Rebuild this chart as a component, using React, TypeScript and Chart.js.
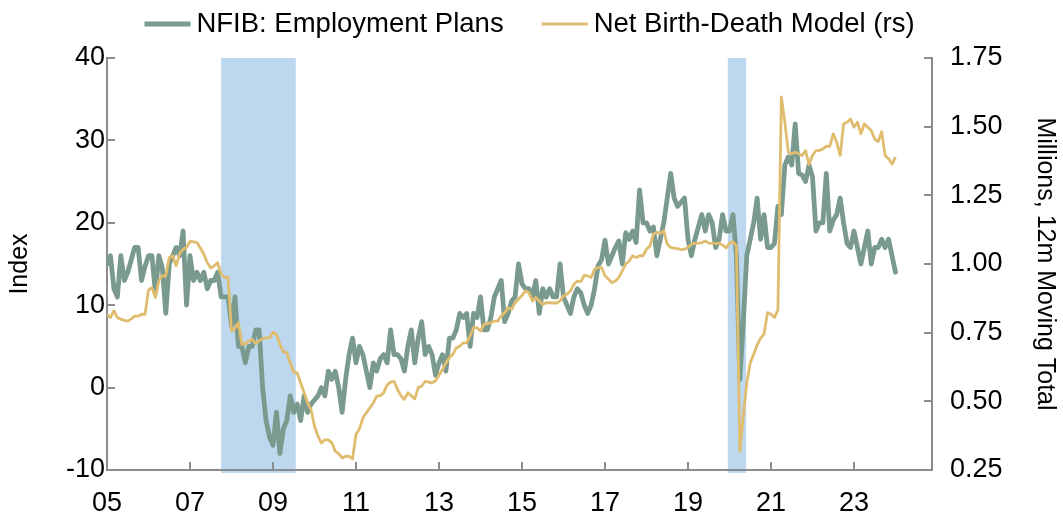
import React, { useEffect, useRef } from 'react';
import { Chart, registerables } from 'chart.js';

Chart.register(...registerables);

// ---- data ----
const FIRST_YEAR = 2005; // first monthly observation: Jan 2005

const seriesNames = ['NFIB: Employment Plans', 'Net Birth-Death Model (rs)'];
const axisTitles = ['Index', 'Millions, 12m Moving Total'];

// NFIB: Employment Plans (index, monthly Jan 2005 - Jan 2024)
const nfibEmploymentPlans: number[] = [
  15, 16, 12, 11, 16, 13, 14, 15.5, 17, 17, 13, 14.7,
  16, 16, 11.5, 16, 14.5, 9, 15, 16, 17, 16, 19, 10,
  16, 13, 14, 13, 14, 12, 13, 13, 14, 11, 11, 11,
  7.5, 11, 5, 5, 3, 5, 5, 7, 7, 0, -4, -6,
  -7, -3, -8, -5, -4, -1, -3, -2, -4, -1, -3, -2,
  -1.5, -1, 0, -1, 2, 1, 2, 0, -3, 1, 4, 6,
  3, 5, 4, 2, 0, 3, 2, 3.5, 4, 3, 7, 4,
  4, 3.5, 2, 5, 7, 3, 6, 8, 4, 5, 4, 1.5,
  3, 4, 2, 6, 6, 7, 9, 8.5, 9, 5, 9, 8.5,
  11, 7, 7, 8.5, 11, 12, 13, 8, 9, 10.5, 11, 15,
  12.6, 12, 12, 11, 13, 9, 12, 11, 12, 11, 11, 15,
  11, 10, 9, 11, 12, 11.5, 10, 9, 10, 12, 14.8, 15.5,
  17.9, 15, 16, 17, 17.8, 15, 18.8, 18, 19, 17.6, 24, 20,
  20, 19, 19.5, 16, 18, 20, 23, 26, 23, 22, 22.5, 23,
  18, 16, 18, 19.5, 21, 19, 21, 20, 17, 18, 21, 19,
  19, 21, 16, 1, 8, 16, 18, 20, 23, 18, 21, 17,
  17, 17.5, 22, 21, 27, 28, 27, 32, 26, 25.8, 25, 27,
  25.6, 19, 20, 20, 26, 19, 20.3, 21, 23, 20, 17.5, 17,
  19, 17, 15, 17, 19, 15, 17, 17, 18, 17, 18, 16,
  14,
];

// Net Birth-Death Model (millions, 12m moving total, right scale)
const netBirthDeathModel: number[] = [
  0.817, 0.805, 0.83, 0.805, 0.799, 0.795, 0.792, 0.8, 0.81, 0.81, 0.817, 0.817,
  0.905, 0.914, 0.878, 0.94, 0.957, 0.957, 1.024, 1.03, 0.993, 1.038, 1.054, 1.06,
  1.082, 1.081, 1.078, 1.058, 1.036, 1.005, 0.985, 0.993, 1.005, 0.963, 0.951, 0.951,
  0.756, 0.765, 0.786, 0.707, 0.71, 0.72, 0.726, 0.71, 0.72, 0.728, 0.732, 0.73,
  0.752, 0.744, 0.707, 0.68, 0.677, 0.64, 0.606, 0.604, 0.567, 0.531, 0.494, 0.47,
  0.409, 0.373, 0.348, 0.36, 0.36, 0.35, 0.318, 0.31, 0.294, 0.3, 0.3, 0.29,
  0.38, 0.4, 0.44, 0.458, 0.476, 0.494, 0.519, 0.521, 0.531, 0.56, 0.57, 0.573,
  0.543, 0.52, 0.507, 0.531, 0.52, 0.509, 0.55, 0.555, 0.573, 0.57, 0.567, 0.575,
  0.595, 0.616, 0.64, 0.659, 0.671, 0.695, 0.7, 0.713, 0.713, 0.738, 0.768, 0.768,
  0.756, 0.78, 0.783, 0.786, 0.792, 0.792, 0.811, 0.823, 0.841, 0.835, 0.859, 0.872,
  0.885, 0.902, 0.896, 0.865, 0.878, 0.865, 0.853, 0.859, 0.859, 0.858, 0.858, 0.865,
  0.884, 0.89, 0.902, 0.926, 0.938, 0.936, 0.959, 0.957, 0.951, 0.981, 0.987, 0.987,
  0.957, 0.945, 0.932, 0.938, 0.951, 0.975, 1.0, 1.011, 1.03, 1.024, 1.03, 1.03,
  1.054, 1.066, 1.109, 1.115, 1.112, 1.121, 1.072, 1.06, 1.058, 1.056, 1.052, 1.054,
  1.06, 1.072, 1.075, 1.076, 1.078, 1.084, 1.076, 1.075, 1.074, 1.076, 1.069, 1.058,
  1.076, 1.081, 1.066, 0.318, 0.446, 0.567, 0.64, 0.671, 0.705, 0.73, 0.745, 0.823,
  0.817, 0.805, 0.832, 1.608, 1.516, 1.407, 1.401, 1.407, 1.401, 1.395, 1.413, 1.362,
  1.395, 1.413, 1.413, 1.419, 1.429, 1.428, 1.474, 1.443, 1.395, 1.51, 1.516, 1.528,
  1.498, 1.516, 1.474, 1.51, 1.498, 1.486, 1.455, 1.446, 1.482, 1.395, 1.383, 1.364,
  1.389,
];

const xTickYears = [2005, 2007, 2009, 2011, 2013, 2015, 2017, 2019, 2021, 2023];
const xRange = [2005, 2024.88];
const leftTicks = [-10, 0, 10, 20, 30, 40];
const rightTicks = [0.25, 0.5, 0.75, 1.0, 1.25, 1.5, 1.75];
// recession shading (decimal years)
const recessionStarts = [2007.75, 2019.96];
const recessionEnds = [2009.55, 2020.4];

// ---- styles ----
const FONT = "'Liberation Sans', Arial, sans-serif";
const LEGEND_SIZE = 27.5;
const TICK_SIZE = 27;
const TITLE_SIZE = 25;
const GREEN = '#7a9a8e';
const GOLD = '#e0bd6e';
const SHADE = '#bdd7ee';
const AXIS = '#8c8c8c';
const TEXT = '#000000';

const toPoints = (arr: number[]) => arr.map((v, i) => ({ x: FIRST_YEAR + i / 12, y: v }));

const shadePlugin = {
  id: 'recessionShade',
  beforeDraw(chart: any) {
    const { ctx, chartArea, scales } = chart;
    const xs = scales.x;
    ctx.save();
    ctx.fillStyle = SHADE;
    recessionStarts.forEach((s, k) => {
      const x0 = xs.getPixelForValue(s);
      const x1 = xs.getPixelForValue(recessionEnds[k]);
      ctx.fillRect(x0, chartArea.top, x1 - x0, chartArea.bottom - chartArea.top + 3);
    });
    ctx.restore();
  },
};

const tickPlugin = {
  id: 'inwardTicks',
  afterDatasetsDraw(chart: any) {
    const { ctx, chartArea, scales } = chart;
    const len = 8;
    ctx.save();
    ctx.strokeStyle = AXIS;
    ctx.lineWidth = 2;
    ctx.beginPath();
    scales.x.ticks.forEach((t: any) => {
      const px = Math.round(scales.x.getPixelForValue(t.value));
      ctx.moveTo(px, chartArea.bottom);
      ctx.lineTo(px, chartArea.bottom - len);
    });
    scales.y.ticks.forEach((t: any) => {
      const py = Math.round(scales.y.getPixelForValue(t.value));
      ctx.moveTo(chartArea.left, py);
      ctx.lineTo(chartArea.left + len, py);
    });
    scales.y1.ticks.forEach((t: any) => {
      const py = Math.round(scales.y1.getPixelForValue(t.value));
      ctx.moveTo(chartArea.right, py);
      ctx.lineTo(chartArea.right - len, py);
    });
    ctx.stroke();
    ctx.restore();
  },
};

const legendPlugin = {
  id: 'topLegend',
  afterDraw(chart: any) {
    const { ctx } = chart;
    const sample = 46;
    const gap = 6;
    const spacing = 38;
    const y = 24;
    ctx.save();
    ctx.font = `${LEGEND_SIZE}px ${FONT}`;
    ctx.textBaseline = 'middle';
    ctx.textAlign = 'left';
    const items = chart.data.datasets.map((ds: any) => ({
      label: ds.label,
      color: ds.borderColor,
      lw: ds.borderWidth,
      w: ctx.measureText(ds.label).width,
    }));
    const total =
      items.reduce((a: number, it: any) => a + sample + gap + it.w, 0) + spacing * (items.length - 1);
    let x = (chart.width - total) / 2 - 2;
    items.forEach((it: any) => {
      ctx.strokeStyle = it.color;
      ctx.lineWidth = it.lw;
      ctx.beginPath();
      ctx.moveTo(x, y);
      ctx.lineTo(x + sample, y);
      ctx.stroke();
      ctx.fillStyle = TEXT;
      ctx.fillText(it.label, x + sample + gap, y);
      x += sample + gap + it.w + spacing;
    });
    ctx.restore();
  },
};

export default function App() {
  const canvasRef = useRef<HTMLCanvasElement | null>(null);

  useEffect(() => {
    document.body.style.margin = '0';
    const canvas = canvasRef.current;
    if (!canvas) return;
    const tickFont = { family: FONT, size: TICK_SIZE };
    const titleFont = { family: FONT, size: TITLE_SIZE };
    const chart = new Chart(canvas, {
      type: 'line',
      data: {
        datasets: [
          {
            label: seriesNames[0],
            data: toPoints(nfibEmploymentPlans),
            borderColor: GREEN,
            backgroundColor: GREEN,
            borderWidth: 4.8,
            pointRadius: 0,
            borderJoinStyle: 'round',
            borderCapStyle: 'round',
            yAxisID: 'y',
            order: 1,
          },
          {
            label: seriesNames[1],
            data: toPoints(netBirthDeathModel),
            borderColor: GOLD,
            backgroundColor: GOLD,
            borderWidth: 2.8,
            pointRadius: 0,
            borderJoinStyle: 'round',
            yAxisID: 'y1',
            order: 0,
          },
        ],
      },
      options: {
        animation: false,
        responsive: true,
        maintainAspectRatio: false,
        devicePixelRatio: 1,
        layout: { padding: { top: 58, left: 0, right: 0, bottom: 0 } },
        plugins: { legend: { display: false }, tooltip: { enabled: false } },
        scales: {
          x: {
            type: 'linear',
            min: xRange[0],
            max: xRange[1],
            afterBuildTicks: (s: any) => {
              s.ticks = xTickYears.map((v) => ({ value: v }));
            },
            afterFit: (s: any) => {
              s.height = 45;
            },
            grid: { display: false, drawTicks: false },
            border: { display: true, color: AXIS, width: 2 },
            ticks: {
              font: tickFont,
              color: TEXT,
              padding: 17,
              maxRotation: 0,
              autoSkip: false,
              callback: (v: any) => String(Number(v) % 100).padStart(2, '0'),
            },
          },
          y: {
            type: 'linear',
            position: 'left',
            min: leftTicks[0],
            max: leftTicks[leftTicks.length - 1],
            afterBuildTicks: (s: any) => {
              s.ticks = leftTicks.map((v) => ({ value: v }));
            },
            afterFit: (s: any) => {
              s.width = 107;
            },
            grid: { display: false, drawTicks: false },
            border: { display: true, color: AXIS, width: 2 },
            ticks: { font: tickFont, color: TEXT, padding: 2, callback: (v: any) => String(v) },
            title: {
              display: true,
              text: axisTitles[0],
              color: TEXT,
              font: titleFont,
              padding: { top: 5, bottom: 0 },
            },
          },
          y1: {
            type: 'linear',
            position: 'right',
            min: rightTicks[0],
            max: rightTicks[rightTicks.length - 1],
            afterBuildTicks: (s: any) => {
              s.ticks = rightTicks.map((v) => ({ value: v }));
            },
            afterFit: (s: any) => {
              s.width = 131;
            },
            grid: { display: false, drawTicks: false },
            border: { display: true, color: AXIS, width: 2 },
            ticks: { font: tickFont, color: TEXT, padding: 18, callback: (v: any) => Number(v).toFixed(2) },
            title: {
              display: true,
              text: axisTitles[1],
              color: TEXT,
              font: titleFont,
              padding: { top: 3, bottom: 0 },
            },
          },
        },
      },
      plugins: [shadePlugin, tickPlugin, legendPlugin],
    } as any);
    return () => chart.destroy();
  }, []);

  return (
    <div style={{ position: 'relative', width: 1063, height: 515 }}>
      <canvas ref={canvasRef} />
    </div>
  );
}
